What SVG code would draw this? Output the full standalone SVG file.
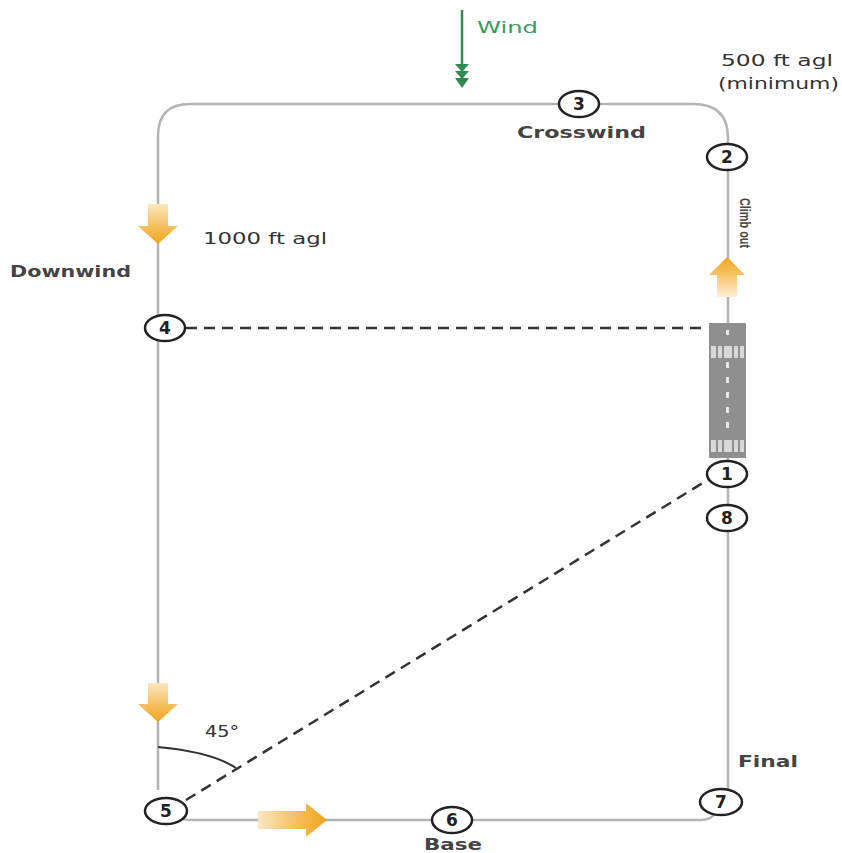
<svg xmlns="http://www.w3.org/2000/svg" width="842" height="853" viewBox="0 0 842 853">
<style>
.path{fill:none;stroke:#b4b4b4;stroke-width:2.5}
.dash{fill:none;stroke:#333;stroke-width:2.5;stroke-dasharray:11 7}
.node ellipse{fill:#fff;stroke:#222;stroke-width:2.5}
.num{font-family:"DejaVu Sans",Verdana,sans-serif;font-weight:bold;font-size:17px;fill:#222;text-anchor:middle}
.lbl{font-family:"DejaVu Sans",Verdana,sans-serif;font-size:16px;fill:#333}
.blbl{font-family:"DejaVu Sans",Verdana,sans-serif;font-size:16px;font-weight:bold;fill:#444}
</style>
<defs>
<linearGradient id="gDown" x1="0" y1="0" x2="0" y2="1">
<stop offset="0" stop-color="#fbe7c0"/><stop offset="0.55" stop-color="#f5c060"/><stop offset="1" stop-color="#f0a518"/>
</linearGradient>
<linearGradient id="gUp" x1="0" y1="1" x2="0" y2="0">
<stop offset="0" stop-color="#fdf0d8"/><stop offset="0.55" stop-color="#f6c366"/><stop offset="1" stop-color="#f0a518"/>
</linearGradient>
<linearGradient id="gRight" x1="0" y1="0" x2="1" y2="0">
<stop offset="0" stop-color="#fbe7c0"/><stop offset="0.55" stop-color="#f5c060"/><stop offset="1" stop-color="#f0a518"/>
</linearGradient>
</defs>
<rect width="842" height="853" fill="#fff"/>

<g id="connectors">
<path class="path" d="M158,790 V136 Q158,104 190,104 H693 Q728,104 728,138 V790"/>
<path class="path" d="M180,818 Q184,820 192,820 H700 Q712,820 716,812"/>
<line class="dash" x1="186" y1="328" x2="708" y2="328"/>
<line class="dash" x1="186" y1="800" x2="706" y2="481"/>
<path d="M158,747 Q212,752 236,768" fill="none" stroke="#333" stroke-width="2"/>
</g>

<g id="wind">
<line x1="462" y1="10" x2="462" y2="82" stroke="#2e8b4a" stroke-width="2.5"/>
<path d="M455,64 L469,64 L462,72 Z M455,71 L469,71 L462,79 Z M455,78 L469,78 L462,88 Z" fill="#2e8b4a"/>
<text x="477" y="33" font-family="DejaVu Sans,Verdana,sans-serif" font-size="16" fill="#3a9a5a" textLength="61" lengthAdjust="spacingAndGlyphs">Wind</text>
</g>

<g id="runway">
<rect x="709" y="323" width="37" height="135" fill="#8f8f8f"/>
<g fill="#d8d8d8">
<rect x="711" y="346" width="33" height="12"/>
<rect x="711" y="440" width="33" height="12"/>
</g>
<g fill="#8f8f8f">
<rect x="716" y="346" width="2" height="12"/><rect x="722" y="346" width="2" height="12"/><rect x="732" y="346" width="2" height="12"/><rect x="738" y="346" width="2" height="12"/>
<rect x="716" y="440" width="2" height="12"/><rect x="722" y="440" width="2" height="12"/><rect x="732" y="440" width="2" height="12"/><rect x="738" y="440" width="2" height="12"/>
</g>
<g fill="#e8e8e8">
<rect x="726" y="330" width="3" height="5"/>
<rect x="726" y="362" width="3" height="6"/>
<rect x="726" y="377" width="3" height="6"/>
<rect x="726" y="392" width="3" height="6"/>
<rect x="726" y="407" width="3" height="6"/>
<rect x="726" y="422" width="3" height="6"/>
</g>
</g>

<g id="arrows">
<path d="M148,204 H168 V226 H178 L158,244 L138,226 H148 Z" fill="url(#gDown)"/>
<path d="M148,683 H168 V704 H178 L158,722 L138,704 H148 Z" fill="url(#gDown)"/>
<path d="M717,297 H737 V275 H745 L727,257 L709,275 H717 Z" fill="url(#gUp)"/>
<path d="M258,811 H306 V803 L327,820 L306,837 V829 H258 Z" fill="url(#gRight)"/>
</g>

<g id="n1" class="node"><ellipse cx="727" cy="474" rx="20" ry="13"/><text class="num" x="727" y="480">1</text></g>
<g id="n2" class="node"><ellipse cx="727" cy="157" rx="20" ry="13"/><text class="num" x="727" y="163">2</text></g>
<g id="n3" class="node"><ellipse cx="579" cy="104" rx="20" ry="13"/><text class="num" x="579" y="110">3</text></g>
<g id="n4" class="node"><ellipse cx="165" cy="328" rx="20" ry="13"/><text class="num" x="165" y="334">4</text></g>
<g id="n5" class="node"><ellipse cx="166" cy="811" rx="21" ry="13"/><text class="num" x="166" y="817">5</text></g>
<g id="n6" class="node"><ellipse cx="452" cy="820" rx="20" ry="13"/><text class="num" x="452" y="826">6</text></g>
<g id="n7" class="node"><ellipse cx="721" cy="802" rx="21" ry="13"/><text class="num" x="721" y="808">7</text></g>
<g id="n8" class="node"><ellipse cx="727" cy="518" rx="20" ry="13"/><text class="num" x="727" y="524">8</text></g>

<g id="labels">
<text class="lbl" x="721" y="66" textLength="112" lengthAdjust="spacingAndGlyphs">500 ft agl</text>
<text class="lbl" x="718" y="89" textLength="121" lengthAdjust="spacingAndGlyphs">(minimum)</text>
<text class="blbl" x="517" y="138" textLength="129" lengthAdjust="spacingAndGlyphs">Crosswind</text>
<text class="lbl" x="203" y="244" textLength="124" lengthAdjust="spacingAndGlyphs">1000 ft agl</text>
<text class="blbl" x="10" y="277" textLength="121" lengthAdjust="spacingAndGlyphs">Downwind</text>
<text x="198" y="-740" transform="rotate(90)" font-family="Liberation Sans Narrow,Liberation Sans,Arial,sans-serif" font-size="14" font-weight="bold" fill="#444" textLength="50" lengthAdjust="spacingAndGlyphs">Climb out</text>
<text class="lbl" x="205" y="737" textLength="34" lengthAdjust="spacingAndGlyphs">45°</text>
<text class="blbl" x="738" y="767" textLength="60" lengthAdjust="spacingAndGlyphs">Final</text>
<text class="blbl" x="424" y="850" textLength="58" lengthAdjust="spacingAndGlyphs">Base</text>
</g>
</svg>
